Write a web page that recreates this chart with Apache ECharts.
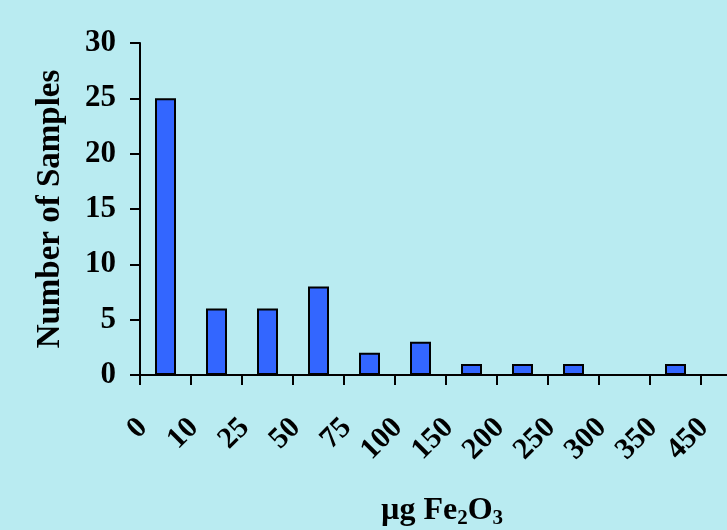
<!DOCTYPE html>
<html>
<head>
<meta charset="utf-8">
<script src="https://cdn.jsdelivr.net/npm/echarts@6/dist/echarts.min.js"></script>
<style>
  html, body { margin: 0; padding: 0; background: #B9EBF1; }
  #chart { width: 727px; height: 530px; }
</style>
</head>
<body>
<div id="chart"></div>
<script>
// Bin edges (µg Fe2O3) shown at the tick marks
const binEdges = ['0', '10', '25', '50', '75', '100', '150', '200', '250', '300', '350', '450'];
// Number of samples falling in each bin (between consecutive edges)
const sampleCounts = [25, 6, 6, 8, 2, 3, 1, 1, 1, 0, 1];
// Count axis ticks
const countTicks = [0, 5, 10, 15, 20, 25, 30];

const FONT = "'Liberation Serif', 'Times New Roman', Times, serif";

// Each bar sits in the middle of its bin on a continuous index scale
const barData = sampleCounts.map((v, i) => [i + 0.5, v]);

const chart = echarts.init(document.getElementById('chart'), null, { renderer: 'canvas' });

chart.setOption({
  backgroundColor: '#B9EBF1',
  animation: false,
  grid: { left: 140, top: 43, bottom: 155, right: -25, containLabel: false, outerBoundsMode: 'none' },
  xAxis: {
    type: 'value',
    min: 0,
    max: binEdges.length,
    interval: 1,
    splitLine: { show: false },
    axisLine: { show: true, lineStyle: { color: '#000', width: 2 } },
    axisTick: { show: true, length: 10, lineStyle: { color: '#000', width: 2 } },
    axisLabel: {
      rotate: 45,
      margin: 51,
      padding: [8, -4, 0, 0],
      color: '#000',
      fontFamily: FONT,
      fontWeight: 'bold',
      fontSize: 30,
      showMaxLabel: true,
      formatter: v => (binEdges[v] !== undefined ? binEdges[v] : '')
    },
    name: '{t|µg Fe}{s|2}{t|O}{s|3}',
    nameLocation: 'middle',
    nameGap: 120,
    nameTextStyle: {
      padding: [0, 8, 0, 0],
      rich: {
        t: { fontFamily: FONT, fontWeight: 'bold', fontSize: 32, color: '#000', verticalAlign: 'top' },
        s: { fontFamily: FONT, fontWeight: 'bold', fontSize: 21, color: '#000', padding: [13, 0, 0, 0], verticalAlign: 'top' }
      }
    }
  },
  yAxis: {
    type: 'value',
    min: countTicks[0],
    max: countTicks[countTicks.length - 1],
    interval: countTicks[1] - countTicks[0],
    splitLine: { show: false },
    axisLine: { show: true, lineStyle: { color: '#000', width: 2 } },
    axisTick: { show: true, length: 10, lineStyle: { color: '#000', width: 2 } },
    axisLabel: {
      margin: 24,
      color: '#000',
      fontFamily: FONT,
      fontWeight: 'bold',
      fontSize: 31
    },
    name: 'Number of Samples',
    nameLocation: 'middle',
    nameRotate: 90,
    nameGap: 73,
    nameTextStyle: {
      fontFamily: FONT,
      fontWeight: 'bold',
      fontSize: 33,
      color: '#000'
    }
  },
  series: [{
    type: 'bar',
    data: barData,
    barWidth: 21,
    itemStyle: {
      color: '#3366FF',
      borderColor: '#000',
      borderWidth: 2
    }
  }]
});
</script>
</body>
</html>
